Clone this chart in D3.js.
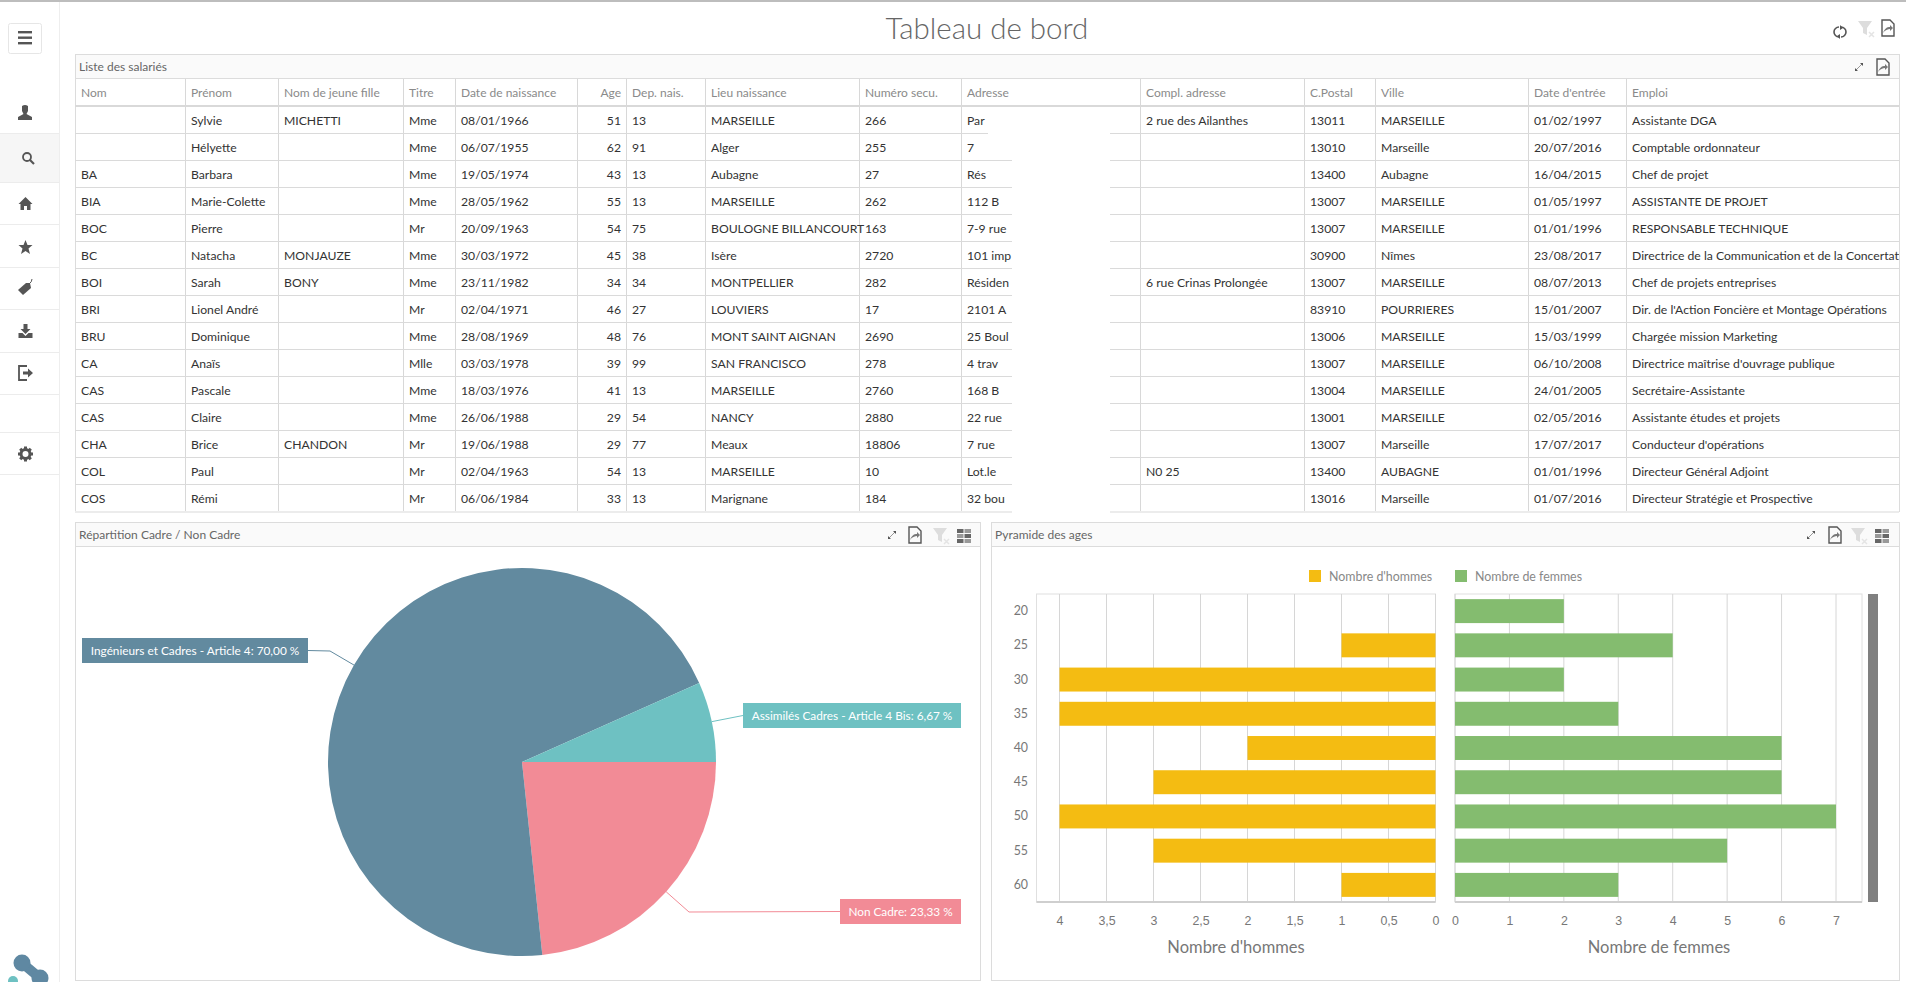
<!DOCTYPE html>
<html>
<head>
<meta charset="utf-8">
<script src="https://cdn.jsdelivr.net/npm/d3@7"></script>
<style>
  html, body { margin: 0; padding: 0; background: #fff; overflow: hidden; }
  svg { display: block; font-family: Lato, 'Open Sans', sans-serif; }
  .cell { font-size: 12.2px; fill: #333; }
  .head { font-size: 12px; fill: #8a8a8a; }
  .panel-title { font-size: 12px; fill: #666; }
  .tick-label { font-size: 12.4px; fill: #777; }
  .axis-title { font-size: 16.5px; fill: #777; }
  .legend-label { font-size: 12.4px; fill: #888; }
  .slice-label { font-size: 11.8px; fill: #fff; }
</style>
</head>
<body>
<svg id="page" width="1906" height="982"></svg>
<script>
const tableColumns = ['Nom', 'Prénom', 'Nom de jeune fille', 'Titre', 'Date de naissance', 'Age', 'Dep. nais.', 'Lieu naissance', 'Numéro secu.', 'Adresse', 'Compl. adresse', 'C.Postal', 'Ville', "Date d'entrée", 'Emploi'];

const noms = ['', '', 'BA', 'BIA', 'BOC', 'BC', 'BOI', 'BRI', 'BRU', 'CA', 'CAS', 'CAS', 'CHA', 'COL', 'COS'];
const prenoms = ['Sylvie', 'Hélyette', 'Barbara', 'Marie-Colette', 'Pierre', 'Natacha', 'Sarah', 'Lionel André', 'Dominique', 'Anaïs', 'Pascale', 'Claire', 'Brice', 'Paul', 'Rémi'];
const nomsJeuneFille = ['MICHETTI', '', '', '', '', 'MONJAUZE', 'BONY', '', '', '', '', '', 'CHANDON', '', ''];
const titres = ['Mme', 'Mme', 'Mme', 'Mme', 'Mr', 'Mme', 'Mme', 'Mr', 'Mme', 'Mlle', 'Mme', 'Mme', 'Mr', 'Mr', 'Mr'];
const naissances = ['08/01/1966', '06/07/1955', '19/05/1974', '28/05/1962', '20/09/1963', '30/03/1972', '23/11/1982', '02/04/1971', '28/08/1969', '03/03/1978', '18/03/1976', '26/06/1988', '19/06/1988', '02/04/1963', '06/06/1984'];
const ages = [51, 62, 43, 55, 54, 45, 34, 46, 48, 39, 41, 29, 29, 54, 33];
const departements = [13, 91, 13, 13, 75, 38, 34, 27, 76, 99, 13, 54, 77, 13, 13];
const lieux = ['MARSEILLE', 'Alger', 'Aubagne', 'MARSEILLE', 'BOULOGNE BILLANCOURT', 'Isère', 'MONTPELLIER', 'LOUVIERS', 'MONT SAINT AIGNAN', 'SAN FRANCISCO', 'MARSEILLE', 'NANCY', 'Meaux', 'MARSEILLE', 'Marignane'];
const numeros = ['266', '255', '27', '262', '163', '2720', '282', '17', '2690', '278', '2760', '2880', '18806', '10', '184'];
const adresses = ['Par', '7', 'Rés', '112 B', '7-9 rue', '101 imp', 'Résiden', '2101 A', '25 Boul', '4 trav', '168 B', '22 rue', '7 rue', 'Lot.le', '32 bou'];
const complements = ['2 rue des Ailanthes', '', '', '', '', '', '6 rue Crinas Prolongée', '', '', '', '', '', '', 'N0 25', ''];
const codesPostaux = ['13011', '13010', '13400', '13007', '13007', '30900', '13007', '83910', '13006', '13007', '13004', '13001', '13007', '13400', '13016'];
const villes = ['MARSEILLE', 'Marseille', 'Aubagne', 'MARSEILLE', 'MARSEILLE', 'Nîmes', 'MARSEILLE', 'POURRIERES', 'MARSEILLE', 'MARSEILLE', 'MARSEILLE', 'MARSEILLE', 'Marseille', 'AUBAGNE', 'Marseille'];
const entrees = ['01/02/1997', '20/07/2016', '16/04/2015', '01/05/1997', '01/01/1996', '23/08/2017', '08/07/2013', '15/01/2007', '15/03/1999', '06/10/2008', '24/01/2005', '02/05/2016', '17/07/2017', '01/01/1996', '01/07/2016'];
const emplois = ['Assistante DGA', 'Comptable ordonnateur', 'Chef de projet', 'ASSISTANTE DE PROJET', 'RESPONSABLE TECHNIQUE', 'Directrice de la Communication et de la Concertati', 'Chef de projets entreprises', "Dir. de l'Action Foncière et Montage Opérations", 'Chargée mission Marketing', "Directrice maîtrise d'ouvrage publique", 'Secrétaire-Assistante', 'Assistante études et projets', "Conducteur d'opérations", 'Directeur Général Adjoint', 'Directeur Stratégie et Prospective'];

const tableData = [noms, prenoms, nomsJeuneFille, titres, naissances, ages, departements, lieux, numeros, adresses, complements, codesPostaux, villes, entrees, emplois];

const sliceNames = ['Non Cadre', 'Ingénieurs et Cadres - Article 4', 'Assimilés Cadres - Article 4 Bis'];
const sliceValues = [23.33, 70, 6.67];
const sliceColors = ['#f28b96', '#628a9f', '#6ec1c2'];

const ageGroups = [20, 25, 30, 35, 40, 45, 50, 55, 60];
const hommes = [0, 1, 4, 4, 2, 3, 4, 3, 1];
const femmes = [2, 4, 2, 3, 6, 6, 7, 5, 3];
const hommesTicks = [0, 0.5, 1, 1.5, 2, 2.5, 3, 3.5, 4];
const femmesTicks = [0, 1, 2, 3, 4, 5, 6, 7];

const HOMMES_COLOR = '#f4bc12';
const FEMMES_COLOR = '#84bc6f';
const ICON_COLOR = '#555';

const svg = d3.select('#page');

// barre grise tout en haut
svg.append('rect').attr('width', 1906).attr('height', 2).attr('fill', '#bdbdbd');

svg.append('text')
  .attr('x', 987).attr('y', 39)
  .attr('text-anchor', 'middle')
  .attr('font-size', 29.5).attr('font-weight', 300)
  .attr('fill', '#666')
  .text('Tableau de bord');

function drawPanel(x0, x1, y0, y1, title) {
  const g = svg.append('g');
  g.append('rect').attr('x', x0 + 0.5).attr('y', y0 + 0.5).attr('width', x1 - x0).attr('height', y1 - y0)
    .attr('fill', '#fff').attr('stroke', '#dcdcdc');
  g.append('rect').attr('x', x0 + 1).attr('y', y0 + 1).attr('width', x1 - x0 - 1).attr('height', 23)
    .attr('fill', '#fafafa');
  g.append('line').attr('x1', x0).attr('x2', x1).attr('y1', y0 + 24.5).attr('y2', y0 + 24.5).attr('stroke', '#dcdcdc');
  g.append('text').attr('class', 'panel-title').attr('x', x0 + 4).attr('y', y0 + 16.5).text(title);
}

// ---- icones
function iconExpand(x, y) {
  const g = svg.append('g').attr('transform', `translate(${x},${y})`).attr('fill', ICON_COLOR);
  g.append('line').attr('x1', -3).attr('y1', 3).attr('x2', 3).attr('y2', -3).attr('stroke', '#999').attr('stroke-width', 1);
  g.append('path').attr('d', 'M1,-4 L4,-4 L4,-1 Z M-4,1 L-4,4 L-1,4 Z');
}
function iconPdf(x, y) {
  const g = svg.append('g').attr('transform', `translate(${x},${y})`);
  g.append('path').attr('d', 'M-6,-8 L2,-8 L6,-4 L6,8 L-6,8 Z').attr('fill', 'none').attr('stroke', ICON_COLOR).attr('stroke-width', 1.4);
  g.append('path').attr('d', 'M-5,5 C-3,0 -1,-1 2,-1 L2,-3 L5,0 L2,3 L2,1 C0,1 -3,2 -5,5 Z').attr('fill', '#777');
}
function iconFilter(x, y) {
  const g = svg.append('g').attr('transform', `translate(${x},${y})`);
  g.append('path').attr('d', 'M-7,-7 L7,-7 L2,0 L2,7 L-2,5 L-2,0 Z').attr('fill', '#ddd');
  g.append('path').attr('d', 'M4,4 L9,9 M9,4 L4,9').attr('stroke', '#e4e4e4').attr('stroke-width', 1.5);
}
function iconGrid(x, y) {
  const g = svg.append('g').attr('transform', `translate(${x},${y})`).attr('fill', '#777');
  [-6, -1, 4].forEach((dy, i) => {
    g.append('rect').attr('x', -7).attr('y', dy).attr('width', 6.5).attr('height', 4).attr('fill', i === 1 ? '#999' : '#666');
    g.append('rect').attr('x', 0.5).attr('y', dy).attr('width', 6.5).attr('height', 4).attr('fill', i === 1 ? '#666' : '#999');
  });
}
function iconRefresh(x, y) {
  const g = svg.append('g').attr('transform', `translate(${x},${y})`);
  g.append('path').attr('d', 'M-1,-5 A5,5 0 0 0 -1,5').attr('fill', 'none').attr('stroke', ICON_COLOR).attr('stroke-width', 1.6);
  g.append('path').attr('d', 'M1,5 A5,5 0 0 0 1,-5').attr('fill', 'none').attr('stroke', ICON_COLOR).attr('stroke-width', 1.6);
  g.append('path').attr('d', 'M0,-7 L3,-4 L0,-2 Z M0,7 L-3,4 L0,2 Z').attr('fill', ICON_COLOR);
}

// ---- barre laterale
svg.append('line').attr('x1', 59.5).attr('x2', 59.5).attr('y1', 2).attr('y2', 982).attr('stroke', '#eee');
svg.append('rect').attr('x', 0).attr('y', 133).attr('width', 59).attr('height', 49).attr('fill', '#f6f6f6');
[133, 182, 224, 267, 309, 352, 394, 432, 474].forEach(y => {
  svg.append('line').attr('x1', 0).attr('x2', 59).attr('y1', y + 0.5).attr('y2', y + 0.5).attr('stroke', '#ececec');
});
svg.append('rect').attr('x', 8.5).attr('y', 23.5).attr('width', 33).attr('height', 30).attr('rx', 2)
  .attr('fill', '#fff').attr('stroke', '#e6e6e6');
[32, 37.5, 43].forEach(y => {
  svg.append('rect').attr('x', 18).attr('y', y - 1).attr('width', 14).attr('height', 2.4).attr('fill', ICON_COLOR);
});

const side = (x, y) => svg.append('g').attr('transform', `translate(${x},${y})`).attr('fill', ICON_COLOR);
side(25, 113).append('path').attr('d', 'M-3,-7 Q0,-9 3,-7 L3,-2 L1.5,1 L7,4 L7,7 L-7,7 L-7,4 L-1.5,1 L-3,-2 Z');
const loupe = side(28, 158);
loupe.append('circle').attr('r', 4).attr('cx', -1).attr('cy', -1).attr('fill', 'none').attr('stroke', ICON_COLOR).attr('stroke-width', 1.8);
loupe.append('line').attr('x1', 2).attr('y1', 2).attr('x2', 6).attr('y2', 6).attr('stroke', ICON_COLOR).attr('stroke-width', 2.2);
side(25.5, 204).append('path').attr('d', 'M0,-7 L7,0 L5,0 L5,6 L1.5,6 L1.5,2 L-1.5,2 L-1.5,6 L-5,6 L-5,0 L-7,0 Z');
side(25.5, 247).append('path').attr('d', 'M0,-7 L2,-2 L7,-2 L3,1.5 L4.5,7 L0,4 L-4.5,7 L-3,1.5 L-7,-2 L-2,-2 Z');
const tag = side(25, 288);
tag.append('path').attr('d', 'M5,-5 L6,0 L-2,7 L-7,2 L1,-5 Z');
tag.append('path').attr('d', 'M4,-4 Q7,-6 7,-9').attr('fill', 'none').attr('stroke', ICON_COLOR).attr('stroke-width', 1);
const dl = side(25.5, 331);
dl.append('path').attr('d', 'M-2,-7 L2,-7 L2,-2 L5,-2 L0,3 L-5,-2 L-2,-2 Z');
dl.append('path').attr('d', 'M-7,2 L-3,2 L0,5 L3,2 L7,2 L7,7 L-7,7 Z');
const logout = side(25, 373);
logout.append('path').attr('d', 'M2,-7 L-6,-7 L-6,7 L2,7').attr('fill', 'none').attr('stroke', ICON_COLOR).attr('stroke-width', 1.8);
logout.append('path').attr('d', 'M-2,-1.5 L3,-1.5 L3,-4.5 L8,0 L3,4.5 L3,1.5 L-2,1.5 Z');
const gear = side(25.5, 454);
gear.append('circle').attr('r', 4.5).attr('fill', 'none').attr('stroke', ICON_COLOR).attr('stroke-width', 3);
d3.range(8).forEach(i => {
  gear.append('rect').attr('x', -1.5).attr('y', -7.5).attr('width', 3).attr('height', 3).attr('transform', `rotate(${i * 45})`);
});

// logo en bas a gauche
svg.append('path').attr('d', 'M22,963 L40,978').attr('stroke', '#5f88a2').attr('stroke-width', 10).attr('fill', 'none');
svg.append('circle').attr('cx', 22).attr('cy', 963).attr('r', 8.5).attr('fill', '#5f88a2');
svg.append('circle').attr('cx', 40).attr('cy', 978).attr('r', 8.5).attr('fill', '#5f88a2');
svg.append('circle').attr('cx', 13).attr('cy', 981).attr('r', 5).attr('fill', '#6ec1c2');

iconRefresh(1840, 32);
iconFilter(1865, 28);
iconPdf(1888, 28);

// ---- tableau des salaries
const colEdges = [75.5, 185.5, 278.5, 403.5, 455.5, 577.5, 626.5, 705.5, 859.5, 961.5, 1140.5, 1304.5, 1375.5, 1528.5, 1626.5, 1899.5];
const AGE_COL = tableColumns.indexOf('Age');
const rowScale = d3.scaleBand().domain(d3.range(noms.length)).range([106.5, 511.5]);

drawPanel(75, 1899, 54, 511, 'Liste des salariés');
iconExpand(1859, 67);
iconPdf(1883, 67);

const tableG = svg.append('g');

tableG.selectAll('line.col').data(colEdges.slice(1, -1)).join('line')
  .attr('class', 'col')
  .attr('x1', d => d).attr('x2', d => d).attr('y1', 79).attr('y2', 511)
  .attr('stroke', '#d8d8d8');

tableG.selectAll('line.row').data(d3.range(1, noms.length)).join('line')
  .attr('class', 'row')
  .attr('x1', 75).attr('x2', 1899)
  .attr('y1', d => rowScale(d)).attr('y2', d => rowScale(d))
  .attr('stroke', '#dadada');

tableG.append('line').attr('x1', 75).attr('x2', 1899).attr('y1', 106).attr('y2', 106)
  .attr('stroke', '#d9d9d9').attr('stroke-width', 2);
tableG.append('line').attr('x1', 75).attr('x2', 1899).attr('y1', 512).attr('y2', 512)
  .attr('stroke', '#ececec').attr('stroke-width', 2);

// masques blancs de l'anonymisation
tableG.append('rect').attr('x', 1012).attr('y', 108).attr('width', 98).attr('height', 406).attr('fill', '#fff');
tableG.append('rect').attr('x', 988).attr('y', 131).attr('width', 30).attr('height', 5).attr('fill', '#fff');

tableG.selectAll('text.head').data(tableColumns).join('text')
  .attr('class', 'head')
  .attr('x', (d, i) => i === AGE_COL ? colEdges[i + 1] - 5.5 : colEdges[i] + 5.5)
  .attr('y', 97)
  .attr('text-anchor', (d, i) => i === AGE_COL ? 'end' : 'start')
  .text(d => d);

tableG.append('clipPath').attr('id', 'emploi-clip').append('rect')
  .attr('x', 1626).attr('y', 106).attr('width', 273).attr('height', 406);

tableData.forEach((values, col) => {
  tableG.selectAll(`text.col${col}`).data(values).join('text')
    .attr('class', `cell col${col}`)
    .attr('x', col === AGE_COL ? colEdges[col + 1] - 5.5 : colEdges[col] + 5.5)
    .attr('y', (d, i) => rowScale(i) + rowScale.bandwidth() / 2 + 5)
    .attr('text-anchor', col === AGE_COL ? 'end' : 'start')
    .attr('clip-path', col === tableColumns.length - 1 ? 'url(#emploi-clip)' : null)
    .text(d => d);
});

// ---- camembert
drawPanel(75, 980, 522, 980, 'Répartition Cadre / Non Cadre');
iconExpand(892, 535);
iconPdf(915, 535);
iconFilter(940, 535);
iconGrid(964, 535);

const PIE_RADIUS = 194;
const pieG = svg.append('g').attr('transform', 'translate(522,762)');
const pieArcs = d3.pie().sort(null).startAngle(Math.PI / 2).endAngle(Math.PI * 2.5)
  .value((d, i) => sliceValues[i])(sliceNames);
const arc = d3.arc().innerRadius(0).outerRadius(PIE_RADIUS);
const edgeArc = d3.arc().innerRadius(PIE_RADIUS).outerRadius(PIE_RADIUS);

pieG.selectAll('path.slice').data(pieArcs).join('path')
  .attr('class', 'slice')
  .attr('d', arc)
  .attr('fill', (d, i) => sliceColors[i]);

// etiquettes : boite [x0, y0, x1, y1] et coude du trait, en coordonnees de page
const labelBoxes = [
  { box: [840, 899, 961, 924], elbow: [689, 912] },
  { box: [82, 638, 308, 663], elbow: [330, 651] },
  { box: [743, 703, 961, 728], elbow: null }
];

pieArcs.forEach((d, i) => {
  const { box, elbow } = labelBoxes[i];
  const [ax, ay] = edgeArc.centroid(d);
  const anchor = [ax + 522, ay + 762];
  const sideX = box[0] > 522 ? box[0] : box[2];
  const mid = (box[1] + box[3]) / 2;
  const pts = elbow ? [anchor, elbow, [sideX, mid]] : [anchor, [sideX, mid]];
  svg.append('path').attr('d', d3.line()(pts)).attr('fill', 'none')
    .attr('stroke', sliceColors[i]).attr('stroke-width', 1);
  svg.append('rect').attr('x', box[0]).attr('y', box[1]).attr('width', box[2] - box[0]).attr('height', box[3] - box[1])
    .attr('fill', sliceColors[i]);
  svg.append('text').attr('class', 'slice-label')
    .attr('x', (box[0] + box[2]) / 2).attr('y', mid + 4.5)
    .attr('text-anchor', 'middle')
    .text(`${sliceNames[i]}: ${sliceValues[i].toFixed(2).replace('.', ',')} %`);
});

// ---- pyramide des ages
drawPanel(991, 1899, 522, 980, 'Pyramide des ages');
iconExpand(1811, 535);
iconPdf(1835, 535);
iconFilter(1858, 535);
iconGrid(1882, 535);

const PLOT_TOP = 594;
const PLOT_BOTTOM = 902;
const hommesScale = d3.scaleLinear().domain([0, 4]).range([1435.5, 1059.5]);
const femmesScale = d3.scaleLinear().domain([0, 7]).range([1455, 1836]);
const ageScale = d3.scaleBand().domain(ageGroups).range([PLOT_TOP, PLOT_BOTTOM]).paddingInner(0.3).paddingOuter(0.15);

function drawSide(scale, ticks, values, color, left, right, title, titleX) {
  const g = svg.append('g');
  g.append('rect').attr('x', left).attr('y', PLOT_TOP).attr('width', right - left).attr('height', PLOT_BOTTOM - PLOT_TOP)
    .attr('fill', 'none').attr('stroke', '#e0e0e0');
  g.selectAll('line.grid').data(ticks).join('line')
    .attr('class', 'grid')
    .attr('x1', d => scale(d)).attr('x2', d => scale(d))
    .attr('y1', PLOT_TOP).attr('y2', PLOT_BOTTOM)
    .attr('stroke', '#d6d6d6');
  g.selectAll('rect.bar').data(values).join('rect')
    .attr('class', 'bar')
    .attr('x', d => Math.min(scale(0), scale(d)))
    .attr('width', d => Math.abs(scale(d) - scale(0)))
    .attr('y', (d, i) => ageScale(ageGroups[i]))
    .attr('height', ageScale.bandwidth())
    .attr('fill', color);
  g.append('line').attr('x1', left).attr('x2', right).attr('y1', PLOT_BOTTOM).attr('y2', PLOT_BOTTOM)
    .attr('stroke', '#cfcfcf').attr('stroke-width', 2);

  const axisG = g.append('g').attr('transform', `translate(0,${PLOT_BOTTOM})`)
    .call(d3.axisBottom(scale).tickValues(ticks).tickSize(0).tickPadding(14)
      .tickFormat(d => String(d).replace('.', ',')));
  axisG.select('.domain').remove();
  axisG.selectAll('text').attr('class', 'tick-label').attr('font-size', null).attr('font-family', null).attr('fill', null);

  g.append('text').attr('class', 'axis-title').attr('x', titleX).attr('y', 953)
    .attr('text-anchor', 'middle').text(title);
}

drawSide(hommesScale, hommesTicks, hommes, HOMMES_COLOR, 1036.5, 1435.5, "Nombre d'hommes", 1236);
drawSide(femmesScale, femmesTicks, femmes, FEMMES_COLOR, 1455, 1862, 'Nombre de femmes', 1659);

svg.selectAll('text.age').data(ageGroups).join('text')
  .attr('class', 'tick-label age')
  .attr('x', 1028)
  .attr('y', d => ageScale(d) + ageScale.bandwidth() / 2 + 4)
  .attr('text-anchor', 'end')
  .text(d => d);

// ascenseur gris a droite
svg.append('rect').attr('x', 1868).attr('y', PLOT_TOP).attr('width', 10).attr('height', PLOT_BOTTOM - PLOT_TOP).attr('fill', '#808080');

// legende
const legendItems = [
  { name: "Nombre d'hommes", color: HOMMES_COLOR, x: 1309 },
  { name: 'Nombre de femmes', color: FEMMES_COLOR, x: 1455 }
];
const legendG = svg.selectAll('g.legend').data(legendItems).join('g')
  .attr('class', 'legend')
  .attr('transform', d => `translate(${d.x},570)`);
legendG.append('rect').attr('width', 12).attr('height', 12).attr('fill', d => d.color);
legendG.append('text').attr('class', 'legend-label').attr('x', 20).attr('y', 10.5).text(d => d.name);
</script>
</body>
</html>
